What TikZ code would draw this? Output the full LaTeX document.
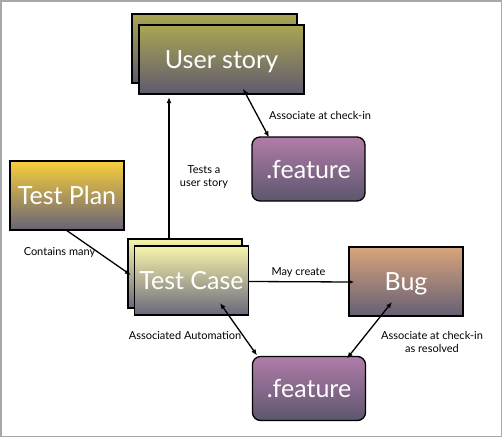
\documentclass[tikz,border=0pt]{standalone}
\usepackage{fontspec}
\setmainfont{Lato}
\usetikzlibrary{arrows.meta}
\definecolor{usTop}{HTML}{A9A552}
\definecolor{usBot}{HTML}{5F5A6E}
\definecolor{tpTop}{HTML}{F9CF3B}
\definecolor{tpBot}{HTML}{676278}
\definecolor{tcTop}{HTML}{F6F4AA}
\definecolor{tcBot}{HTML}{6B687C}
\definecolor{bugTop}{HTML}{D8A47A}
\definecolor{bugBot}{HTML}{655F75}
\definecolor{ftTop}{HTML}{B17CA9}
\definecolor{ftBot}{HTML}{5C566E}
\definecolor{frameGray}{HTML}{A8A8A8}
\tikzset{
  box/.style={draw=black, line width=1.3pt, inner sep=0pt, text=white, text depth=0pt,
    font=\fontsize{25}{28}\selectfont, align=center},
  usbox/.style={box, top color=usTop, bottom color=usBot, minimum width=165pt, minimum height=69pt},
  tpbox/.style={box, top color=tpTop, bottom color=tpBot, minimum width=114pt, minimum height=69pt},
  tcbox/.style={box, top color=tcTop, bottom color=tcBot, minimum width=114pt, minimum height=69pt},
  bugbox/.style={box, top color=bugTop, bottom color=bugBot, minimum width=114pt, minimum height=69pt},
  ftbox/.style={box, top color=ftTop, bottom color=ftBot, minimum width=113pt, minimum height=64pt, rounded corners=8pt},
  lbl/.style={font=\fontsize{11}{13}\selectfont, text=black, inner sep=0pt, align=center},
  conn/.style={line width=1.3pt, draw=black, -{Latex[length=6pt,width=5pt]}},
  dconn/.style={line width=1.3pt, draw=black, {Latex[length=6pt,width=5pt]}-{Latex[length=6pt,width=5pt]}},
}
\begin{document}
\begin{tikzpicture}[x=1pt,y=-1pt]
\useasboundingbox (0,0) rectangle (502,437);
\draw[frameGray, line width=1.5pt] (0.75,0.75) rectangle (501.25,436.25);

\node[usbox] (usback) at (214.5,48.5) {};
\node[usbox] (us) at (221.5,59.5) {User story};
\node[ftbox] (feat1) at (308.5,169) {.feature};
\node[tpbox] (tp) at (67,195.5) {Test Plan};
\node[tcbox] (tcback) at (185,273.5) {};
\node[tcbox] (tc) at (191.5,280.5) {Test Case};
\node[bugbox] (bug) at (406,281.5) {Bug};
\node[ftbox] (feat2) at (309,388.5) {.feature};

\draw[conn] ([xshift=-16pt,yshift=-2pt]tcback.north) -- ([xshift=-52.5pt,yshift=-2.5pt]us.south);
\draw[dconn] ([xshift=21.5pt,yshift=6pt]us.south) -- ([xshift=-39.5pt,yshift=-1pt]feat1.north);
\draw[conn] ([yshift=0pt]tp.south) -- ([xshift=-3pt,yshift=5.5pt]tc.west);
\draw[conn] ([yshift=-1pt]tc.east) -- ([xshift=6pt,yshift=-0.5pt]bug.west);
\draw[dconn] ([xshift=28.5pt,yshift=-22.5pt]tc.center) -- ([xshift=-52pt,yshift=0.5pt]feat2.north);
\draw[dconn] ([xshift=-14pt,yshift=-20.5pt]bug.center) -- ([xshift=38pt,yshift=-2.5pt]feat2.north);

\node[lbl, anchor=west] (l1) at (269,115) {Associate at check-in};
\node[lbl] (l2) at (204,176.5) {Tests a\\user story};
\node[lbl] (l3) at (59.5,252) {Contains many};
\node[lbl] (l4) at (298.5,272) {May create};
\node[lbl] (l5) at (185,335) {Associated Automation};
\node[lbl] (l6) at (432,341.5) {Associate at check-in\\as resolved};
\end{tikzpicture}
\end{document}
